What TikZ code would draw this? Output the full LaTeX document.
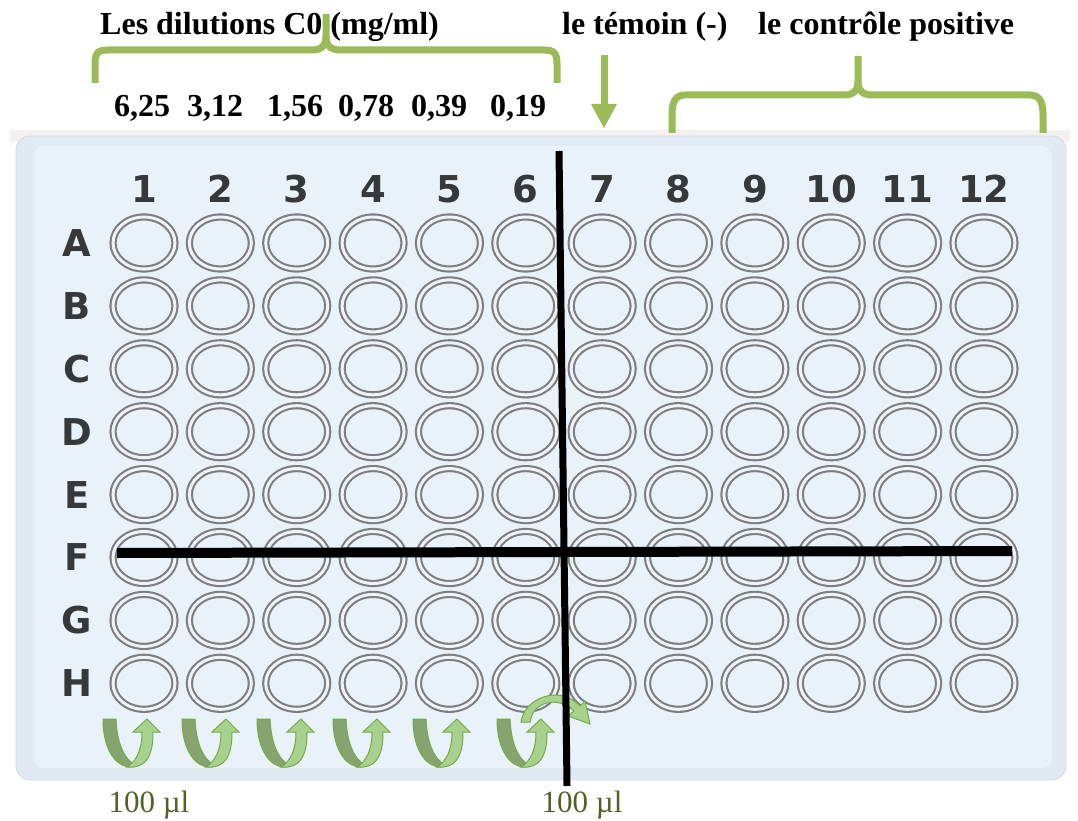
\documentclass[tikz,border=0pt]{standalone}
\usepackage{fontspec}
\setmainfont{Liberation Serif}
\newfontfamily\platefont{DejaVu Sans}
\usetikzlibrary{shapes.geometric}
\definecolor{bracegreen}{HTML}{9BBB59}
\definecolor{volgreen}{HTML}{4F6228}
\definecolor{darkband}{HTML}{86A370}
\definecolor{lightband}{HTML}{A9D18E}
\definecolor{arrowline}{HTML}{70AD47}
\definecolor{wellgray}{HTML}{7C7E80}
\definecolor{wellfill}{HTML}{EDF3F9}
\definecolor{labgray}{HTML}{36393C}
\definecolor{platebord}{HTML}{E1EAF3}
\definecolor{platefill}{HTML}{E9F1F9}
\definecolor{topband}{HTML}{F6F1F1}
\begin{document}
\begin{tikzpicture}[x=1pt,y=-1pt,
  well/.style={ellipse, draw=wellgray, double=wellfill, double distance=3pt, line width=2.1pt, minimum width=62pt, minimum height=52pt, inner sep=0pt},
  plab/.style={font=\platefont\bfseries\fontsize{37}{37}\selectfont, text=labgray, inner sep=0pt},
  toptext/.style={font=\bfseries\fontsize{32}{32}\selectfont, inner sep=0pt},
  brace/.style={draw=bracegreen, line width=7pt},
  blackline/.style={draw=black, line width=10pt},
  vol/.style={font=\fontsize{31}{31}\selectfont, text=volgreen, inner sep=0pt},
  darkarm/.style={fill=darkband, draw=arrowline, line width=1pt},
  lightarm/.style={fill=lightband, draw=arrowline, line width=1pt}
]
\useasboundingbox (0,0) rectangle (1078,821);
\fill[white] (0,0) rectangle (1078,821);
% plate
\fill[topband] (10,130) rectangle (1070,142);
\fill[platebord, rounded corners=14pt] (16,136) rectangle (1066,780);
\draw[draw=platefill!80!gray, line width=0.8pt, rounded corners=14pt] (16,136) rectangle (1066,780);
\fill[platefill, rounded corners=10pt] (34,146) rectangle (1052,768);
% wells
\foreach \r [count=\i] in {A,B,C,D,E,F,G,H}{
  \foreach \c in {1,...,12}{
    \node[well] (w\r\c) at ({144+76.36*(\c-1)},{243+62.9*(\i-1)}) {};
  }
  \node[plab] (row\r) at (77,{243+62.9*(\i-1)}) {\r};
}
\foreach \c in {1,...,12}{
  \node[plab] (col\c) at ({144+76.36*(\c-1)},189) {\c};
}
% top texts
\node[toptext, anchor=west] (dil) at (100,27) {Les dilutions C0 (mg/ml)};
\node[toptext, anchor=west] (tem) at (562,27) {le témoin (-)};
\node[toptext, anchor=west] (pos) at (758,27) {le contrôle positive};
\node[toptext] (n1) at (142,108) {6,25};
\node[toptext] (n2) at (215,108) {3,12};
\node[toptext] (n3) at (295,108) {1,56};
\node[toptext] (n4) at (366,108) {0,78};
\node[toptext] (n5) at (439,108) {0,39};
\node[toptext] (n6) at (518,108) {0,19};
% braces
\draw[brace] (95,83) -- (95,64) .. controls (95,53) and (98,50) .. (108,50) -- (312,50) .. controls (321,50) and (326,46) .. (326,36) -- (326,14);
\draw[brace] (326,36) .. controls (326,46) and (331,50) .. (340,50) -- (544,50) .. controls (554,50) and (557,53) .. (557,64) -- (557,83);
\draw[brace] (672,133) -- (672,114) .. controls (672,103) and (675,95) .. (685,95) -- (844,95) .. controls (853,95) and (858,91) .. (858,81) -- (858,56);
\draw[brace] (858,81) .. controls (858,91) and (863,95) .. (872,95) -- (1030,95) .. controls (1040,95) and (1043,103) .. (1043,114) -- (1043,133);
% temoin arrow
\coordinate (ta) at (604,55);
\coordinate (tb) at (604,108);
\draw[draw=bracegreen, line width=7pt] (ta) -- (tb);
\fill[bracegreen] (591,104) -- (617,104) -- (604,128) -- cycle;
% transfer arc over col 6
\filldraw[lightarm] (521,722) .. controls (524,698) and (560,684) .. (580,706) -- (585,701) -- (590,724) -- (568,716) -- (574,711) .. controls (557,695) and (533,702) .. (530,722) -- cycle;
% U arrows
\foreach \xx in {103,182,257,333,413,497}{
  \begin{scope}[shift={(\xx,719)}]
    \filldraw[darkarm] (0,0) -- (13,0) .. controls (14,24) and (21,40) .. (32,46) -- (27,48) .. controls (11,47) and (0,28) .. (0,0) -- cycle;
    \filldraw[lightarm] (24,48) -- (31,48) .. controls (45,46) and (50,34) .. (50,13) -- (57,13) -- (44,0) -- (30,13) -- (39,13) .. controls (39,30) and (34,42) .. (24,48) -- cycle;
  \end{scope}
}
% black lines
\coordinate (vt) at (559,151);
\coordinate (vb) at (567,786);
\coordinate (hl) at (117,553);
\coordinate (hr) at (1012,551);
\draw[draw=black, line width=7pt] (vt) -- (vb);
\draw[blackline] (hl) -- (hr);
% volumes
\node[vol] (v1) at (149,805) {100 µl};
\node[vol] (v2) at (582,805) {100 µl};
\end{tikzpicture}
\end{document}
